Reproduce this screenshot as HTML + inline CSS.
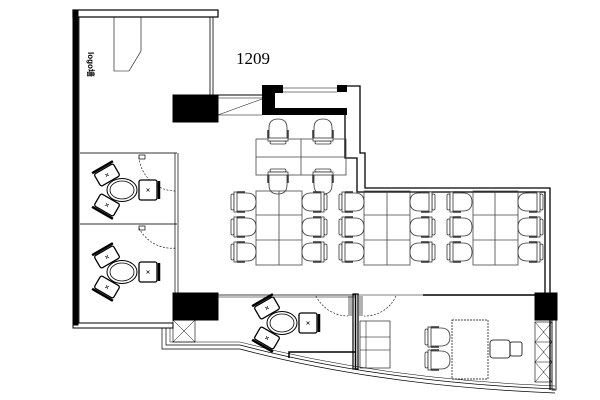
<!DOCTYPE html>
<html><head><meta charset="utf-8"><style>html,body{margin:0;padding:0;background:#fff}svg{display:block}</style></head>
<body>
<svg width="600" height="400" viewBox="0 0 600 400" xmlns="http://www.w3.org/2000/svg" fill="none" stroke="#000">
<defs>
<g id="chL" stroke="#333" stroke-width="0.8">
  <path d="M-8,-9 H4 Q13,-9 13,0 Q13,9 4,9 H-8 Z" fill="#fff"/>
  <rect x="-12" y="-8" width="3" height="16" rx="1.5" fill="#fff"/>
  <rect x="-9" y="-10" width="3" height="20" fill="#fff"/>
  <line x1="-6" y1="-10" x2="2" y2="-10" stroke-width="1.5"/>
  <line x1="-6" y1="10" x2="2" y2="10" stroke-width="1.5"/>
</g>
<g id="chU" transform="rotate(90)"><use href="#chL"/></g>
<g id="rc" stroke="#000">
  <g stroke-width="1.3" fill="#fff">
    <g transform="translate(-15,-15) rotate(-30)"><rect x="-11" y="-7" width="22" height="14" rx="2"/><line x1="-12" y1="-9" x2="12" y2="-9" stroke-width="2.5"/><path d="M-1.5,-1.5 l3,3 m0,-3 l-3,3" stroke-width="0.6"/></g>
    <g transform="translate(-15,15) rotate(30)"><rect x="-11" y="-7" width="22" height="14" rx="2"/><line x1="-12" y1="9" x2="12" y2="9" stroke-width="2.5"/><path d="M-1.5,-1.5 l3,3 m0,-3 l-3,3" stroke-width="0.6"/></g>
    <g transform="translate(26,0)"><rect x="-9" y="-10" width="18" height="20" rx="2"/><line x1="11" y1="-9" x2="11" y2="9" stroke-width="2.5"/><path d="M-1.5,-1.5 l3,3 m0,-3 l-3,3" stroke-width="0.6"/></g>
  </g>
  <ellipse cx="0" cy="0" rx="15" ry="11.5" fill="#fff" stroke-width="1"/>
  <ellipse cx="0" cy="0" rx="12" ry="9" stroke-width="0.8"/>
</g>
</defs>

<rect x="73" y="10" width="145" height="7" stroke-width="1.2"/>
<rect x="73" y="10" width="5" height="315" fill="#000"/>
<line x1="79" y1="17" x2="79" y2="323" stroke-width="0.8"/>
<rect x="210" y="17" width="3" height="78" stroke-width="0.8"/>
<path d="M114,17 V71 H129 L141,51 V17" stroke-width="0.6"/>
<text x="88" y="52" transform="rotate(90 88 52)" font-family="'Liberation Sans','Noto Sans CJK SC',sans-serif" font-size="8" font-weight="bold" fill="#000" stroke="none">logo墙</text>
<text x="236" y="64" font-family="'Liberation Serif',serif" font-size="17" fill="#000" stroke="none">1209</text>

<rect x="173" y="95" width="45" height="27" fill="#000"/>
<path d="M262,85 H283 V93 H275 V108 H347 V115 H262 Z" fill="#000" stroke="none"/>
<rect x="337" y="85" width="10" height="7" fill="#000" stroke="none"/>
<line x1="283" y1="88" x2="337" y2="88" stroke-width="0.6"/>
<line x1="283" y1="92" x2="337" y2="92" stroke-width="0.6"/>
<line x1="218" y1="95" x2="262" y2="95" stroke-width="1"/>
<line x1="218" y1="98" x2="262" y2="98" stroke-width="0.6"/>
<line x1="218" y1="115" x2="262" y2="99" stroke-width="0.5"/>
<line x1="218" y1="115" x2="262" y2="115" stroke-width="0.5"/>
<rect x="173" y="293" width="45" height="27" fill="#000"/>
<rect x="535" y="293" width="22" height="27" fill="#000"/>

<path d="M347,86 H360 V153 H365 V188 H550 V390" stroke-width="1.3"/>
<path d="M345,115 V158 H357 V192 H545 V293" stroke-width="1.3"/>
<rect x="552" y="320" width="4" height="70" stroke-width="0.8"/>

<line x1="79" y1="153" x2="177" y2="153" stroke="#999" stroke-width="2"/>
<line x1="79" y1="224" x2="177" y2="224" stroke="#999" stroke-width="2"/>
<line x1="175" y1="153" x2="175" y2="293" stroke-width="0.7"/>
<line x1="178" y1="153" x2="178" y2="293" stroke-width="0.7"/>
<path d="M139,157 A37,37 0 0 0 176,191" stroke-dasharray="2,1.5" stroke-width="0.6"/>
<path d="M139,228 A37,37 0 0 0 176,248" stroke-dasharray="2,1.5" stroke-width="0.6"/>
<rect x="139" y="155" width="6" height="4" stroke-width="0.7"/>
<rect x="139" y="226" width="6" height="4" stroke-width="0.7"/>
<rect x="73" y="323" width="100" height="5" stroke-width="1"/>

<use href="#rc" transform="translate(122,190)"/>
<use href="#rc" transform="translate(122,272)"/>
<use href="#rc" transform="translate(282,323)"/>

<line x1="218" y1="295" x2="355" y2="295" stroke-width="0.8"/>
<line x1="218" y1="297" x2="355" y2="297" stroke-width="0.5"/>
<line x1="423" y1="295" x2="535" y2="295" stroke-width="1.5"/>
<line x1="358" y1="295" x2="423" y2="295" stroke-width="0.5"/>
<path d="M316,296 A36,36 0 0 0 348,316" stroke-dasharray="2,1.5" stroke-width="0.6"/>
<path d="M396,296 A34,34 0 0 1 364,316" stroke-dasharray="2,1.5" stroke-width="0.6"/>
<rect x="353" y="294" width="5" height="75" stroke-width="1.2"/>
<line x1="355.5" y1="294" x2="355.5" y2="369" stroke-width="1.5"/>
<path d="M349,296 V316 M351,296 V316 M360,296 V316 M362,296 V316" stroke-width="0.6"/>

<path d="M162,328 V349 H240 Q380,386 555,393" stroke-width="0.7"/>
<path d="M166,328 V345 H240 Q380,382 555,389" stroke-width="0.7"/>
<path d="M170,328 V342 H240 Q380,379 555,386" stroke-width="0.5"/>
<rect x="173" y="320" width="22" height="22" stroke-width="0.6"/>
<path d="M173,320 L195,342 M195,320 L173,342" stroke-width="0.5"/>
<path d="M289,358 V352 H355" stroke-width="1.5"/>

<rect x="360" y="321" width="30" height="47" stroke-width="0.6"/>
<line x1="360" y1="337" x2="390" y2="337" stroke-width="0.5"/>
<line x1="360" y1="350" x2="390" y2="350" stroke-width="0.5"/>
<line x1="366" y1="321" x2="366" y2="368" stroke-width="0.5"/>
<rect x="535" y="322" width="17" height="60" stroke-width="0.6"/>
<path d="M535,322 L552,342 M552,322 L535,342 M535,342 L552,362 M552,342 L535,362 M535,362 L552,382 M552,362 L535,382 M535,342 H552 M535,362 H552" stroke-width="0.5"/>

<rect x="452" y="320" width="36" height="59" stroke-width="0.7" stroke-dasharray="2,1"/>
<use href="#chL" transform="translate(437,337)"/>
<use href="#chL" transform="translate(437,360)"/>
<g stroke-width="0.8"><rect x="490" y="340" width="20" height="18" rx="3"/><rect x="510" y="342" width="12" height="14" rx="2"/></g>

<g stroke="#444" stroke-width="0.8">
<rect x="256" y="139" width="90" height="36"/><line x1="301" y1="139" x2="301" y2="175"/><line x1="256" y1="157" x2="346" y2="157"/>
</g>
<use href="#chU" transform="translate(278,132) rotate(180)"/>
<use href="#chU" transform="translate(323,132) rotate(180)"/>
<use href="#chU" transform="translate(278,181)"/>
<use href="#chU" transform="translate(323,181)"/>

<g stroke="#444" stroke-width="0.8">
<rect x="256" y="191" width="46" height="74"/><line x1="279" y1="191" x2="279" y2="265"/><line x1="256" y1="215" x2="302" y2="215"/><line x1="256" y1="240" x2="302" y2="240"/>
<rect x="364" y="191" width="46" height="74"/><line x1="387" y1="191" x2="387" y2="265"/><line x1="364" y1="215" x2="410" y2="215"/><line x1="364" y1="240" x2="410" y2="240"/>
<rect x="473" y="191" width="45" height="74"/><line x1="495" y1="191" x2="495" y2="265"/><line x1="473" y1="215" x2="518" y2="215"/><line x1="473" y1="240" x2="518" y2="240"/>
</g>
<g>
<use href="#chL" transform="translate(243,202)"/><use href="#chL" transform="translate(243,227)"/><use href="#chL" transform="translate(243,252)"/>
<use href="#chL" transform="translate(315,202) scale(-1,1)"/><use href="#chL" transform="translate(315,227) scale(-1,1)"/><use href="#chL" transform="translate(315,252) scale(-1,1)"/>
<use href="#chL" transform="translate(351,202)"/><use href="#chL" transform="translate(351,227)"/><use href="#chL" transform="translate(351,252)"/>
<use href="#chL" transform="translate(423,202) scale(-1,1)"/><use href="#chL" transform="translate(423,227) scale(-1,1)"/><use href="#chL" transform="translate(423,252) scale(-1,1)"/>
<use href="#chL" transform="translate(459,202)"/><use href="#chL" transform="translate(459,227)"/><use href="#chL" transform="translate(459,252)"/>
<use href="#chL" transform="translate(531,202) scale(-1,1)"/><use href="#chL" transform="translate(531,227) scale(-1,1)"/><use href="#chL" transform="translate(531,252) scale(-1,1)"/>
</g>
</svg>
</body></html>
